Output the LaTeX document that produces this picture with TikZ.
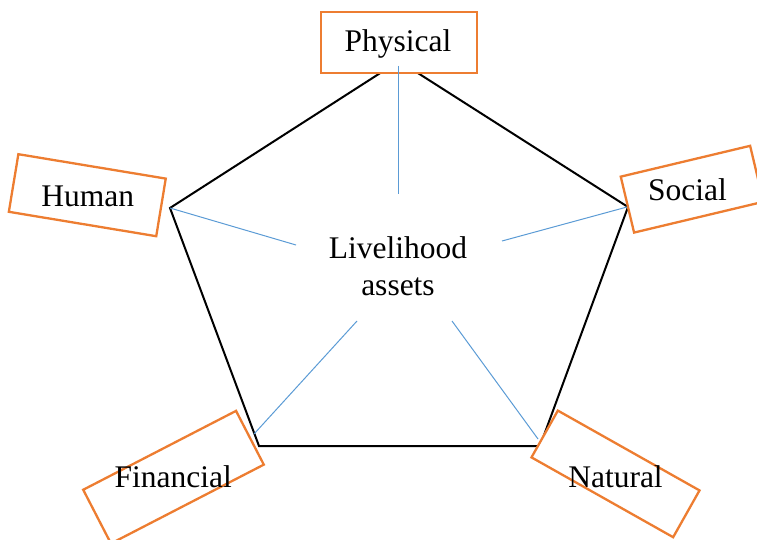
\documentclass[tikz,border=0pt]{standalone}
\usepackage{fontspec}
\setmainfont{Liberation Serif}
\definecolor{boxorange}{HTML}{ED7D31}
\definecolor{spokeblue}{HTML}{5B9BD5}
\begin{document}
\begin{tikzpicture}[x=1pt,y=-1pt,
  assetbox/.style={draw=boxorange, line width=2.3pt, fill=white, inner sep=0pt},
  label/.style={font=\fontsize{31.5}{37}\selectfont, inner sep=0pt, anchor=base},
  spoke/.style={draw=spokeblue, line width=1pt},
  pent/.style={draw=black, line width=2pt}]
\useasboundingbox (0,0) rectangle (757,540);
% pentagon vertices
\coordinate (vT) at (399,61);
\coordinate (vR) at (628,207);
\coordinate (vBR) at (540,446);
\coordinate (vBL) at (259,446);
\coordinate (vL) at (170,208);
\draw[pent] (vT) -- (vR) -- (vBR) -- (vBL) -- (vL) -- cycle;
% boxes
\node[assetbox, minimum width=156pt, minimum height=61pt] (physbox) at (399,42.5) {};
\node[assetbox, minimum width=149.4pt, minimum height=58.4pt, rotate=-9.4] (humbox) at (87.3,195.2) {};
\node[assetbox, minimum width=133pt, minimum height=57.5pt, rotate=13.4] (socbox) at (692.1,189.2) {};
\node[assetbox, fill=none, minimum width=172pt, minimum height=60.5pt, rotate=27.3] (finbox) at (173.5,477.2) {};
\node[assetbox, minimum width=162.6pt, minimum height=53.7pt, rotate=-29.4] (natbox) at (615.5,473.9) {};
% spokes
\coordinate (sT1) at (398,66);   \coordinate (sT2) at (398,194);
\coordinate (sL1) at (170,208);  \coordinate (sL2) at (296,245);
\coordinate (sR1) at (627,207);  \coordinate (sR2) at (502,241);
\coordinate (sBL1) at (254,434); \coordinate (sBL2) at (357,321);
\coordinate (sBR1) at (538,439); \coordinate (sBR2) at (452,321);
\draw[spoke] (sT1) -- (sT2);
\draw[spoke] (sL1) -- (sL2);
\draw[spoke] (sR1) -- (sR2);
\draw[spoke] (sBL1) -- (sBL2);
\draw[spoke] (sBR1) -- (sBR2);
% labels
\node[label] (phys) at (398,51.7) {Physical};
\node[label] (hum) at (87.7,206) {Human};
\node[label] (soc) at (687.5,200.7) {Social};
\node[label] (fin) at (173.3,487.7) {Financial};
\node[label] (nat) at (615.5,487.3) {Natural};
\node[label, anchor=center, align=center] (centre) at (398,266) {Livelihood\\assets};
\end{tikzpicture}
\end{document}
